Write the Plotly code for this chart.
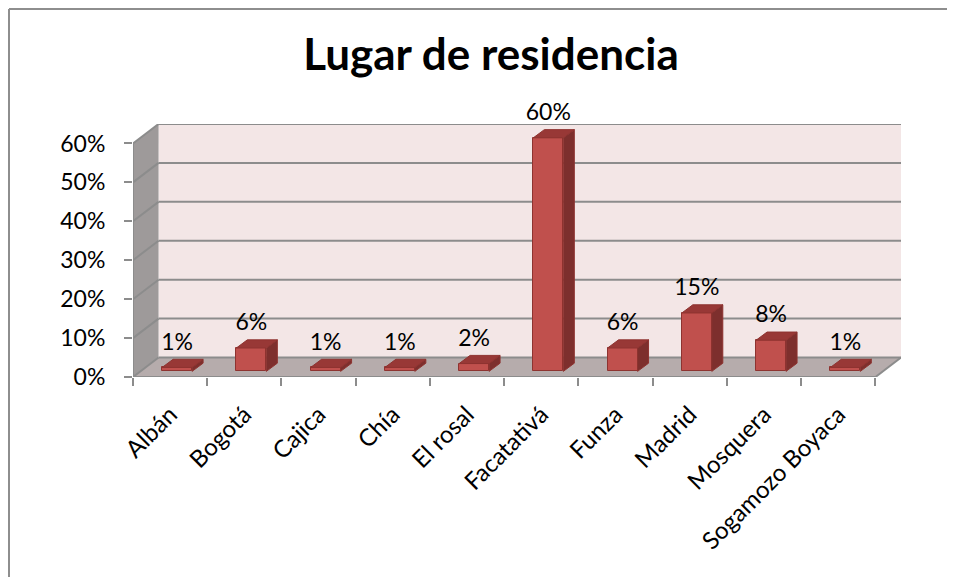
import plotly.graph_objects as go

# Datos del gráfico
categorias = ["Albán", "Bogotá", "Cajica", "Chía", "El rosal", "Facatativá",
              "Funza", "Madrid", "Mosquera", "Sogamozo Boyaca"]
porcentajes = [1, 6, 1, 1, 2, 60, 6, 15, 8, 1]
valores_y = [0, 10, 20, 30, 40, 50, 60]
etiquetas_y = ["0%", "10%", "20%", "30%", "40%", "50%", "60%"]

# Geometria del falso 3D (en unidades de datos)
PROF_X, PROF_Y = 0.344, 5.0          # profundidad de la pared
BAR_X, BAR_Y = 0.094, 1.45           # desplazamiento de la cara frontal
BAR_DX, BAR_DY = 0.148, 2.1          # profundidad de cada barra
ANCHO = 0.404
N = len(categorias)
YMAX = valores_y[-1]

ROJO = "#C0504D"
ROJO_LADO = "#7D2F2D"
ROJO_TOPE = "#983836"
BORDE = "#8E3330"
GRIS = "#8C8C8C"
FUENTE = "Lato"

# la pagina tiene 8px de margen en el body
OFF = 8
W, H = 955 - OFF, 577 - OFF
ML, MR, MT, MB = 133 - OFF, 54, 124 - OFF, 200


def px(x):
    return (x - OFF - ML) / (W - ML - MR)


def py(y):
    return (H - MB - (y - OFF)) / (H - MT - MB)


def poligono(puntos):
    return "M " + " L ".join(f"{a},{b}" for a, b in puntos) + " Z"


fig = go.Figure()

# caras frontales
centros = [i + 0.5 + BAR_X for i in range(N)]
fig.add_trace(go.Bar(
    x=centros, y=porcentajes, base=[BAR_Y] * N, width=ANCHO,
    marker=dict(color=ROJO, line=dict(color=BORDE, width=1)),
    hoverinfo="skip", showlegend=False,
))

# caras laterales y superiores
lx, ly, tx, ty = [], [], [], []
for c, v in zip(centros, porcentajes):
    xl, xr = c - ANCHO / 2, c + ANCHO / 2
    top = BAR_Y + v
    lx += [xr, xr + BAR_DX, xr + BAR_DX, xr, xr, None]
    ly += [BAR_Y, BAR_Y + BAR_DY, top + BAR_DY, top, BAR_Y, None]
    tx += [xl, xr, xr + BAR_DX, xl + BAR_DX, xl, None]
    ty += [top, top, top + BAR_DY, top + BAR_DY, top, None]
fig.add_trace(go.Scatter(x=lx, y=ly, fill="toself", fillcolor=ROJO_LADO, mode="lines",
                         line=dict(color=BORDE, width=1), hoverinfo="skip", showlegend=False))
fig.add_trace(go.Scatter(x=tx, y=ty, fill="toself", fillcolor=ROJO_TOPE, mode="lines",
                         line=dict(color=BORDE, width=1), hoverinfo="skip", showlegend=False))

# etiquetas de datos
fig.add_trace(go.Scatter(
    x=centros, y=[BAR_Y + v + BAR_DY + 1.0 for v in porcentajes],
    mode="text", text=[f"{v}%" for v in porcentajes], textposition="top center",
    textfont=dict(family=FUENTE, size=23, color="black"),
    cliponaxis=False, hoverinfo="skip", showlegend=False,
))

# eje auxiliar para las marcas entre categorias
fig.add_trace(go.Scatter(x=[0, N], y=[0, 0], xaxis="x2", mode="none",
                         hoverinfo="skip", showlegend=False))

# paredes y piso
formas = [
    dict(type="path", xref="x", yref="y", layer="below", line=dict(width=0),
         fillcolor="#F3E6E6",
         path=poligono([(PROF_X, PROF_Y), (N + PROF_X, PROF_Y),
                        (N + PROF_X, YMAX + PROF_Y), (PROF_X, YMAX + PROF_Y)])),
    dict(type="path", xref="x", yref="y", layer="below", line=dict(width=0),
         fillcolor="#9E9A9A",
         path=poligono([(0, 0), (PROF_X, PROF_Y), (PROF_X, YMAX + PROF_Y), (0, YMAX)])),
    dict(type="path", xref="x", yref="y", layer="below", line=dict(width=0),
         fillcolor="#B6ACAC",
         path=poligono([(0, 0), (N, 0), (N + PROF_X, PROF_Y), (PROF_X, PROF_Y)])),
]
for v in valores_y:
    formas.append(dict(type="line", xref="x", yref="y", layer="below",
                       x0=PROF_X, x1=N + PROF_X, y0=v + PROF_Y, y1=v + PROF_Y,
                       line=dict(color=GRIS, width=2)))
    formas.append(dict(type="line", xref="x", yref="y", layer="below",
                       x0=0, x1=PROF_X, y0=v, y1=v + PROF_Y,
                       line=dict(color=GRIS, width=2)))
formas += [
    dict(type="line", xref="x", yref="y", layer="below", x0=0, x1=N, y0=0, y1=0,
         line=dict(color=GRIS, width=2)),
    dict(type="line", xref="x", yref="y", layer="below", x0=N, x1=N + PROF_X, y0=0, y1=PROF_Y,
         line=dict(color=GRIS, width=2)),
    dict(type="line", xref="x", yref="y", layer="below", x0=0, x1=0, y0=0, y1=YMAX,
         line=dict(color=GRIS, width=2)),
    # marco del grafico
    dict(type="line", xref="paper", yref="paper", x0=px(9), x1=px(9), y0=py(9), y1=py(600),
         line=dict(color="#8E8E8E", width=2)),
    dict(type="line", xref="paper", yref="paper", x0=px(9), x1=px(980), y0=py(9), y1=py(9),
         line=dict(color="#8E8E8E", width=2)),
]

fig.update_layout(
    width=W, height=H,
    margin=dict(l=ML, r=MR, t=MT, b=MB),
    paper_bgcolor="white", plot_bgcolor="white",
    shapes=formas,
    title=dict(text="<b>Lugar de residencia</b>", x=(491 - OFF) / W, xref="container",
               xanchor="center", y=1 - (55 - OFF) / H, yref="container", yanchor="middle",
               font=dict(family=FUENTE, size=44, color="black")),
    xaxis=dict(range=[0, N + PROF_X], tickvals=[i + 0.5 for i in range(N)], ticktext=categorias,
               tickangle=-45, ticks="outside", ticklen=13, tickcolor="rgba(0,0,0,0)",
               tickfont=dict(family=FUENTE, size=24, color="black"),
               showgrid=False, zeroline=False, showline=False, fixedrange=True),
    xaxis2=dict(range=[0, N + PROF_X], overlaying="x", anchor="y", side="bottom",
                tickvals=list(range(N + 1)), showticklabels=False, ticks="outside",
                ticklen=8, tickwidth=2, tickcolor=GRIS,
                showgrid=False, zeroline=False, showline=False, fixedrange=True),
    yaxis=dict(range=[0, YMAX + PROF_Y], tickvals=valores_y, ticktext=etiquetas_y,
               ticks="outside", ticklen=8, tickwidth=2, tickcolor=GRIS, ticklabelstandoff=14,
               tickfont=dict(family=FUENTE, size=23, color="black"),
               showgrid=False, zeroline=False, showline=False, fixedrange=True),
    bargap=0,
)

fig.write_html("out.html")
